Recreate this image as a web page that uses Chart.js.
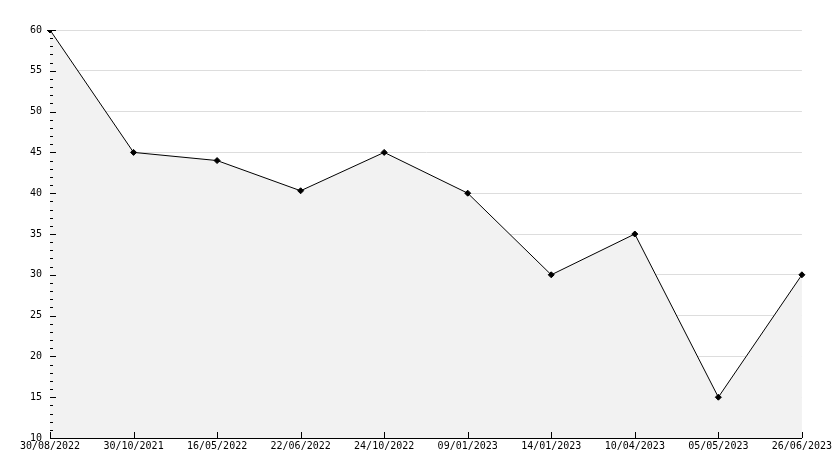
<!DOCTYPE html>
<html>
<head>
<meta charset="utf-8">
<script src="https://cdn.jsdelivr.net/npm/chart.js@4/dist/chart.umd.min.js"></script>
<style>
  html, body { margin: 0; padding: 0; background: #fff; }
  #wrap { width: 834px; height: 468px; }
</style>
</head>
<body>
<div id="wrap"><canvas id="chart"></canvas></div>
<script>
const dates = ['30/08/2022', '30/10/2021', '16/05/2022', '22/06/2022', '24/10/2022',
               '09/01/2023', '14/01/2023', '10/04/2023', '05/05/2023', '26/06/2023'];
const values = [60, 45, 44, 40.3, 45, 40, 30, 35, 15, 30];
const yMin = 10, yMax = 60, yStep = 5;

// ticks drawn inwards, like the original plot
const innerTicks = {
    id: 'innerTicks',
    afterDraw(chart) {
        const ctx = chart.ctx;
        const x = chart.scales.x, y = chart.scales.y;
        ctx.save();
        ctx.strokeStyle = '#000';
        ctx.lineWidth = 1;
        ctx.beginPath();
        for (let v = yMin; v <= yMax; v++) {
            const py = Math.round(y.getPixelForValue(v)) + 0.5;
            const len = v % yStep === 0 ? 6 : 3;
            ctx.moveTo(y.right, py);
            ctx.lineTo(y.right + len, py);
        }
        dates.forEach((d, i) => {
            const px = Math.round(x.getPixelForValue(i)) + 0.5;
            ctx.moveTo(px, x.top);
            ctx.lineTo(px, x.top - 6);
        });
        ctx.stroke();
        ctx.restore();
    }
};

new Chart(document.getElementById('chart'), {
    type: 'line',
    data: {
        labels: dates,
        datasets: [{
            data: values,
            borderColor: '#000',
            borderWidth: 1,
            backgroundColor: '#f2f2f2',
            fill: 'start',
            tension: 0,
            pointStyle: 'rectRot',
            pointRadius: 3,
            pointBackgroundColor: '#000',
            pointBorderColor: '#000'
        }]
    },
    options: {
        responsive: true,
        maintainAspectRatio: false,
        animation: false,
        layout: { padding: { top: 30, right: 29, left: 0, bottom: 0 } },
        plugins: { legend: { display: false }, tooltip: { enabled: false } },
        scales: {
            x: {
                offset: false,
                grid: { display: false, drawTicks: false },
                border: { display: true, color: '#000', width: 1 },
                ticks: {
                    color: '#000', maxRotation: 0, autoSkip: false, padding: 2,
                    font: { family: 'DejaVu Sans Mono', size: 10 }
                },
                afterFit(s) { s.height = 30; }
            },
            y: {
                min: yMin, max: yMax,
                grid: { color: '#dddddd', drawTicks: false },
                border: { display: true, color: '#000', width: 1 },
                ticks: {
                    stepSize: yStep, color: '#000', padding: 8,
                    font: { family: 'DejaVu Sans Mono', size: 10 }
                },
                afterFit(s) { s.width = 50; }
            }
        }
    },
    plugins: [innerTicks]
});
</script>
</body>
</html>
